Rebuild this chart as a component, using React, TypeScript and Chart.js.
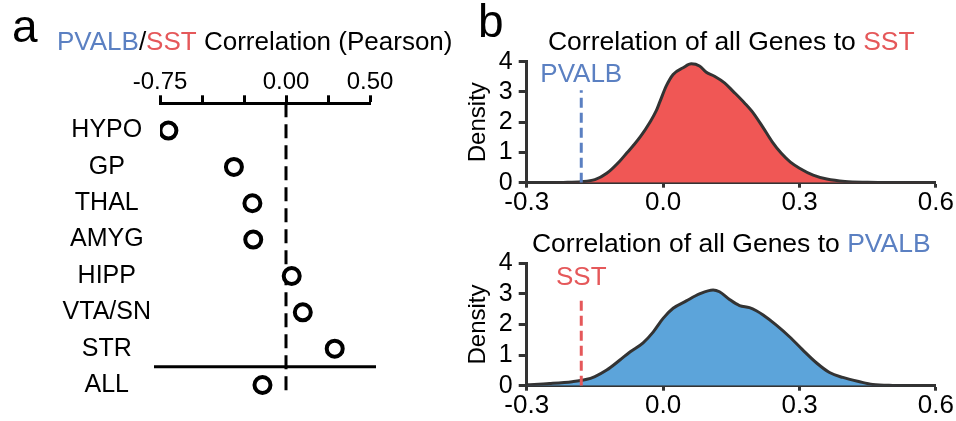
import React, { useEffect, useRef } from 'react';
import { Chart, registerables } from 'chart.js';

Chart.register(...registerables);

const FONT = "'Liberation Sans', Arial, Helvetica, sans-serif";
const BLUE_TEXT = '#5B80C2';
const RED_TEXT = '#E5585A';
const RED_FILL = '#F05755';
const BLUE_FILL = '#5CA4DA';
const CURVE = '#333333';

// ---- Panel a data ----
const regions = ['HYPO', 'GP', 'THAL', 'AMYG', 'HIPP', 'VTA/SN', 'STR', 'ALL'];
const regionCorr = [-0.70, -0.31, -0.20, -0.195, 0.034, 0.10, 0.29, -0.14];
const corrTickLabels = ['-0.75', '0.00', '0.50'];

// ---- Panel b data ----
const sstGeneX = [-0.30, -0.22, -0.18, -0.15, -0.124, -0.095, -0.08, -0.066, -0.05, -0.029, -0.015, -0.007, 0.007, 0.022, 0.044, 0.062, 0.08, 0.095, 0.113, 0.135, 0.154, 0.18, 0.20, 0.22, 0.24, 0.26, 0.28, 0.30, 0.33, 0.36, 0.40, 0.45, 0.52, 0.60];
const sstDensity = [0.0, 0.01, 0.03, 0.10, 0.31, 0.72, 0.98, 1.22, 1.52, 2.0, 2.38, 2.68, 3.2, 3.58, 3.8, 3.93, 3.86, 3.65, 3.52, 3.3, 3.02, 2.62, 2.27, 1.82, 1.35, 0.97, 0.68, 0.48, 0.25, 0.12, 0.04, 0.015, 0.005, 0.0];

const pvalbGeneX = [-0.30, -0.25, -0.20, -0.17, -0.15, -0.124, -0.095, -0.073, -0.044, -0.022, 0.0, 0.022, 0.051, 0.08, 0.11, 0.124, 0.146, 0.168, 0.19, 0.205, 0.22, 0.249, 0.278, 0.307, 0.337, 0.366, 0.395, 0.432, 0.461, 0.505, 0.60];
const pvalbDensity = [0.03, 0.07, 0.13, 0.2, 0.3, 0.51, 0.84, 1.1, 1.4, 1.75, 2.2, 2.53, 2.77, 3.0, 3.13, 3.07, 2.82, 2.62, 2.55, 2.45, 2.31, 1.98, 1.6, 1.17, 0.75, 0.43, 0.27, 0.13, 0.04, 0.01, 0.0];

const densityTickLabels = ['-0.3', '0.0', '0.3', '0.6'];
const pvalbSstCorr = -0.18;
const markerTopTop = 3.06;
const markerLabelTop = 3.56;
const markerTopBottom = 2.91;
const markerLabelBottom = 3.54;

type Seg = { text: string; color: string };

function drawSegments(ctx: CanvasRenderingContext2D, segs: Seg[], x: number, y: number, align: 'left' | 'center') {
  let total = 0;
  for (const s of segs) total += ctx.measureText(s.text).width;
  let cx = align === 'center' ? x - total / 2 : x;
  ctx.textAlign = 'left';
  for (const s of segs) {
    ctx.fillStyle = s.color;
    ctx.fillText(s.text, cx, y);
    cx += ctx.measureText(s.text).width;
  }
}

const panelAPlugin = {
  id: 'panelA',
  beforeDatasetsDraw(chart: any) {
    const { ctx, chartArea, scales } = chart;
    const x = scales.x;
    const y = scales.y;
    ctx.save();
    ctx.strokeStyle = '#000';
    ctx.lineWidth = 3;
    ctx.setLineDash([14, 7]);
    const x0 = x.getPixelForValue(0);
    ctx.beginPath();
    ctx.moveTo(x0, chartArea.top);
    ctx.lineTo(x0, chartArea.bottom);
    ctx.stroke();
    ctx.setLineDash([]);
    const ys = y.getPixelForValue(regions.length - 1.5);
    ctx.beginPath();
    ctx.moveTo(chartArea.left - 6, ys);
    ctx.lineTo(chartArea.right + 6, ys);
    ctx.stroke();
    ctx.restore();
  },
  afterDraw(chart: any) {
    const { ctx } = chart;
    ctx.save();
    ctx.textBaseline = 'alphabetic';
    ctx.font = `46px ${FONT}`;
    ctx.fillStyle = '#000';
    ctx.textAlign = 'left';
    ctx.fillText('a', 12, 42);
    ctx.font = `26px ${FONT}`;
    drawSegments(ctx, [
      { text: 'PVALB', color: BLUE_TEXT },
      { text: '/', color: '#000' },
      { text: 'SST', color: RED_TEXT },
      { text: ' Correlation (Pearson)', color: '#000' },
    ], 57, 50, 'left');
    ctx.restore();
  },
};

function makeDensityPlugin(titleSegs: Seg[], titleBaseline: number, markerLabel: string, markerColor: string, labelY: number, letter: boolean) {
  return {
    id: 'densityDeco',
    afterDraw(chart: any) {
      const { ctx, chartArea, scales } = chart;
      ctx.save();
      ctx.textBaseline = 'alphabetic';
      if (letter) {
        ctx.font = `46px ${FONT}`;
        ctx.fillStyle = '#000';
        ctx.textAlign = 'left';
        ctx.fillText('b', 478, 37);
      }
      ctx.font = `26.5px ${FONT}`;
      drawSegments(ctx, titleSegs, (chartArea.left + chartArea.right) / 2, titleBaseline, 'center');
      ctx.font = `26px ${FONT}`;
      ctx.textAlign = 'center';
      ctx.textBaseline = 'middle';
      ctx.fillStyle = markerColor;
      ctx.fillText(markerLabel, scales.x.getPixelForValue(pvalbSstCorr), scales.y.getPixelForValue(labelY));
      ctx.restore();
    },
  };
}

function densityConfig(xs: number[], ds: number[], fillColor: string, markerColor: string, markerTop: number, top: number, bottom: number, plugin: any) {
  const xAxisH = 30;
  return {
    type: 'line',
    data: {
      datasets: [
        {
          data: [{ x: pvalbSstCorr, y: 0 }, { x: pvalbSstCorr, y: markerTop }],
          borderColor: markerColor,
          borderWidth: 3,
          borderDash: [10, 5],
          pointRadius: 0,
          fill: false,
          tension: 0,
        },
        {
          data: xs.map((x, i) => ({ x, y: ds[i] })),
          borderColor: CURVE,
          borderWidth: 3,
          backgroundColor: fillColor,
          pointRadius: 0,
          fill: 'origin',
          cubicInterpolationMode: 'monotone',
        },
      ],
    },
    options: {
      responsive: false,
      animation: false,
      devicePixelRatio: 1,
      events: [],
      layout: {
        autoPadding: false,
        padding: { left: 456, right: 956 - 936.7, top, bottom: 421 - bottom - xAxisH },
      },
      plugins: { legend: { display: false }, tooltip: { enabled: false } },
      scales: {
        x: {
          type: 'linear',
          min: -0.3,
          max: 0.6,
          afterFit: (s: any) => { s.height = xAxisH; },
          ticks: {
            stepSize: 0.3,
            autoSkip: false,
            maxRotation: 0,
            padding: 2,
            color: '#000',
            font: { family: FONT, size: 26, lineHeight: 1 },
            callback: (v: number) => {
              const t = v.toFixed(1);
              return densityTickLabels.includes(t) ? t : '';
            },
          },
          grid: { display: true, drawOnChartArea: false, drawTicks: true, tickLength: 5, tickWidth: 3, tickColor: CURVE },
          border: { display: true, color: CURVE, width: 3 },
        },
        y: {
          type: 'linear',
          min: 0,
          max: 4,
          afterFit: (s: any) => { s.width = 526.7 - 456; },
          title: {
            display: true,
            text: 'Density',
            color: '#000',
            font: { family: FONT, size: 24, lineHeight: 1 },
            padding: { top: 10, bottom: 0 },
          },
          ticks: {
            stepSize: 1,
            autoSkip: false,
            padding: 6,
            color: '#000',
            font: { family: FONT, size: 25, lineHeight: 1 },
          },
          grid: { display: true, drawOnChartArea: false, drawTicks: true, tickLength: 8, tickWidth: 3, tickColor: CURVE },
          border: { display: true, color: CURVE, width: 3 },
        },
      },
    },
    plugins: [plugin],
  };
}

export default function App() {
  const aRef = useRef<HTMLCanvasElement>(null);
  const bRef = useRef<HTMLCanvasElement>(null);
  const cRef = useRef<HTMLCanvasElement>(null);

  useEffect(() => {
    const chartA = new Chart(aRef.current as HTMLCanvasElement, {
      type: 'scatter',
      data: {
        datasets: [{
          data: regionCorr.map((v, i) => ({ x: v, y: i })),
          pointRadius: 8,
          pointHoverRadius: 8,
          borderWidth: 4,
          borderColor: '#000',
          backgroundColor: '#fff',
        }],
      },
      options: {
        responsive: false,
        animation: false,
        devicePixelRatio: 1,
        events: [],
        layout: { autoPadding: false, padding: { left: 0, right: 586, top: 0, bottom: 8 } },
        plugins: { legend: { display: false }, tooltip: { enabled: false } },
        scales: {
          x: {
            type: 'linear',
            position: 'top',
            min: -0.75,
            max: 0.5,
            afterFit: (s: any) => { s.height = 103.3; },
            ticks: {
              stepSize: 0.25,
              autoSkip: false,
              maxRotation: 0,
              padding: 1,
              color: '#000',
              font: { family: FONT, size: 24, lineHeight: 1 },
              callback: (v: number) => {
                const t = v.toFixed(2);
                return corrTickLabels.includes(t) ? t : '';
              },
            },
            grid: { display: true, drawOnChartArea: false, drawTicks: true, tickLength: 8, tickWidth: 3, tickColor: '#000' },
            border: { display: true, color: '#000', width: 3 },
          },
          y: {
            type: 'linear',
            reverse: true,
            min: -0.75,
            max: 7.33,
            afterFit: (s: any) => { s.width = 160; },
            afterBuildTicks: (s: any) => { s.ticks = regions.map((_, i) => ({ value: i })); },
            ticks: {
              crossAlign: 'center',
              padding: 9,
              autoSkip: false,
              color: '#000',
              font: { family: FONT, size: 25 },
              callback: (v: number) => regions[v] ?? '',
            },
            grid: { display: false, drawTicks: false },
            border: { display: false },
          },
        },
      },
      plugins: [panelAPlugin],
    } as any);

    const chartB = new Chart(bRef.current as HTMLCanvasElement, densityConfig(
      sstGeneX, sstDensity, RED_FILL, BLUE_TEXT, markerTopTop, 61.7, 182.7,
      makeDensityPlugin([
        { text: 'Correlation of all Genes to ', color: '#000' },
        { text: 'SST', color: RED_TEXT },
      ], 50, 'PVALB', BLUE_TEXT, markerLabelTop, true),
    ) as any);

    const chartC = new Chart(cRef.current as HTMLCanvasElement, densityConfig(
      pvalbGeneX, pvalbDensity, BLUE_FILL, RED_TEXT, markerTopBottom, 263.3, 385.7,
      makeDensityPlugin([
        { text: 'Correlation of all Genes to ', color: '#000' },
        { text: 'PVALB', color: BLUE_TEXT },
      ], 251.7, 'SST', RED_TEXT, markerLabelBottom, false),
    ) as any);

    return () => {
      chartA.destroy();
      chartB.destroy();
      chartC.destroy();
    };
  }, []);

  const cs: React.CSSProperties = { position: 'absolute', left: 0, top: 0, width: 956, height: 421 };
  return (
    <div style={{ position: 'absolute', left: 0, top: 0, width: 956, height: 421, background: '#fff' }}>
      <canvas ref={aRef} width={956} height={421} style={cs} />
      <canvas ref={bRef} width={956} height={421} style={cs} />
      <canvas ref={cRef} width={956} height={421} style={cs} />
    </div>
  );
}
